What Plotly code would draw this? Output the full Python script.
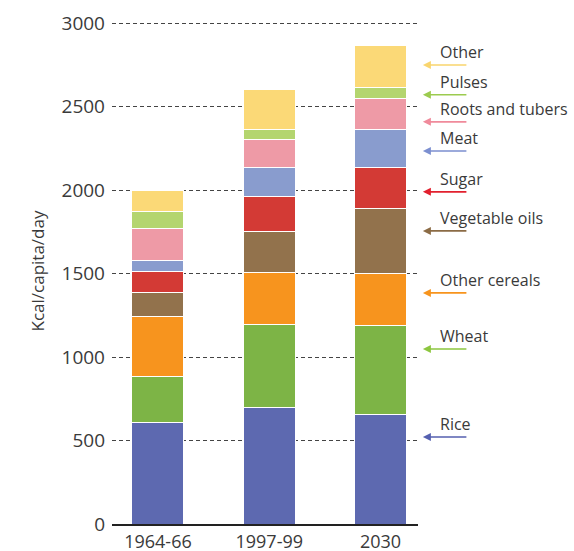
import plotly.graph_objects as go

categories = ["1964-66", "1997-99", "2030"]
series_names = ["Rice", "Wheat", "Other cereals", "Vegetable oils", "Sugar",
                "Meat", "Roots and tubers", "Pulses", "Other"]
rice = [610, 695, 653]
wheat = [275, 497, 533]
other_cereals = [355, 313, 314]
vegetable_oils = [145, 245, 387]
sugar = [125, 210, 250]
meat = [65, 177, 223]
roots_tubers = [192, 168, 190]
pulses = [103, 55, 64]
other = [130, 240, 249]
series_values = [rice, wheat, other_cereals, vegetable_oils, sugar,
                 meat, roots_tubers, pulses, other]
y_ticks = [0, 500, 1000, 1500, 2000, 2500, 3000]

bar_colors = ["#5D69B0", "#7DB446", "#F7941E", "#92724C", "#D33A35",
              "#899CCE", "#EE9AA6", "#B4D56F", "#FBD977"]
arrow_colors = ["#5560B0", "#8CC63F", "#F7941D", "#8B6B45", "#E2202E",
                "#7C8FD0", "#F08A9B", "#9CCB4F", "#F9D56E"]
label_y = [521, 1048, 1384, 1755, 1989, 2234, 2408, 2570, 2749]

x_pos = list(range(len(categories)))
fig = go.Figure()
for name, vals, col in zip(series_names, series_values, bar_colors):
    fig.add_trace(go.Bar(x=x_pos, y=vals, name=name, marker_color=col,
                         marker_line=dict(color="white", width=1), width=0.467))

font_family = "Open Sans"
for name, yv, col in zip(series_names, label_y, arrow_colors):
    fig.add_annotation(x=1.016, xref="paper", y=yv, yref="y", text="",
                       showarrow=True, ax=45, ay=0, arrowhead=2, arrowsize=1,
                       arrowwidth=1.6, arrowcolor=col)
    fig.add_annotation(x=1.066, xref="paper", y=yv, yref="y", text=name,
                       showarrow=False, xanchor="left", yanchor="bottom", yshift=0,
                       font=dict(family=font_family, size=16, color="#3a3a3a"))

fig.update_layout(
    width=574, height=551,
    margin=dict(l=112, r=156, t=18, b=27),
    barmode="stack", showlegend=False,
    plot_bgcolor="white", paper_bgcolor="white",
    font=dict(family=font_family, color="#3a3a3a"),
)
fig.update_xaxes(range=[-0.413, 2.337], tickvals=x_pos, ticktext=categories,
                 showgrid=False, showline=True, linecolor="#222", linewidth=2,
                 tickfont=dict(size=18), ticks="", automargin=False, zeroline=False,
                 ticklabelstandoff=0)
fig.update_yaxes(range=[0, 3030], tickvals=y_ticks, showgrid=True,
                 gridcolor="#444", griddash="4px,3px", gridwidth=1,
                 tickfont=dict(size=19), ticks="", zeroline=False, showline=False,
                 ticklabelstandoff=6,
                 title=dict(text="Kcal/capita/day", font=dict(size=17), standoff=12),
                 automargin=False)

fig.write_html("out.html", config={"displayModeBar": False},
               post_script="document.body.style.margin='0';document.body.style.overflow='hidden';")
